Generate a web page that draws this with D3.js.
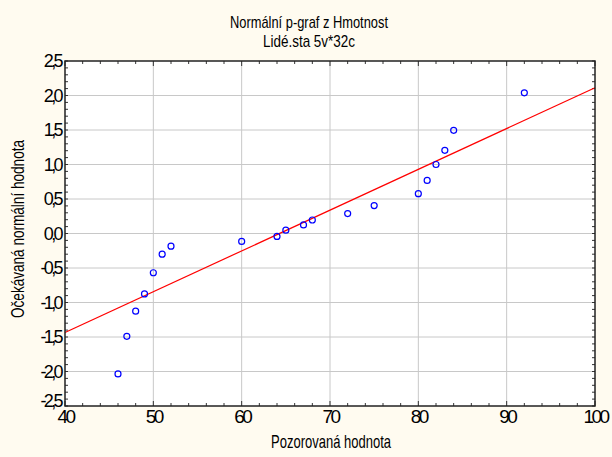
<!DOCTYPE html>
<html>
<head>
<meta charset="utf-8">
<script src="https://cdn.jsdelivr.net/npm/d3@7"></script>
<style>
  html, body { margin: 0; padding: 0; background: #fffbf0; }
  svg { display: block; }
  text { font-family: "Liberation Sans", Arial, sans-serif; fill: #000; }
</style>
</head>
<body>
<svg id="chart" width="612" height="457"></svg>
<script>
// Observed weights and their expected normal values
const observed = [46, 47, 48, 49, 50, 51, 52, 60, 64, 65, 67, 68, 72, 75, 80, 81, 82, 83, 84, 92];
const expected = [-2.035, -1.49, -1.125, -0.876, -0.569, -0.299, -0.183, -0.115, -0.043, 0.048,
                  0.125, 0.196, 0.289, 0.404, 0.577, 0.769, 1.0, 1.206, 1.495, 2.039];
// Reference line y = (x - mean) / sd
const lineMean = 64.27;
const lineSd = 16.92;

const xTicks = [40, 50, 60, 70, 80, 90, 100];
const yTicks = [2.5, 2.0, 1.5, 1.0, 0.5, 0.0, -0.5, -1.0, -1.5, -2.0, -2.5];
const titleLines = ["Normální p-graf z Hmotnost", "Lidé.sta 5v*32c"];
const xLabel = "Pozorovaná hodnota";
const yLabel = "Očekávaná normální hodnota";

const svg = d3.select("#chart");
const plot = { left: 65, right: 595, top: 61, bottom: 406 };

const x = d3.scaleLinear().domain([40, 100]).range([plot.left, plot.right]);
const y = d3.scaleLinear().domain([-2.5, 2.5]).range([plot.bottom, plot.top]);

const fmt = v => d3.format(".1f")(v).replace(".", ",").replace("−", "-");

// plot background
svg.append("rect")
  .attr("x", plot.left).attr("y", plot.top)
  .attr("width", plot.right - plot.left).attr("height", plot.bottom - plot.top)
  .attr("fill", "#ffffff");

// grid
const grid = svg.append("g").attr("stroke", "#c8c8c8").attr("stroke-width", 1);
grid.selectAll("line.gx").data(xTicks.slice(1, -1)).join("line")
  .attr("x1", d => x(d)).attr("x2", d => x(d))
  .attr("y1", plot.top).attr("y2", plot.bottom);
grid.selectAll("line.gy").data(yTicks.slice(1, -1)).join("line")
  .attr("y1", d => y(d)).attr("y2", d => y(d))
  .attr("x1", plot.left).attr("x2", plot.right);

// inward ticks on all four sides
const xMinor = d3.range(40, 100.001, 2);
const yMinor = d3.range(-25, 25.001, 1).map(v => v / 10);
const tickG = svg.append("g").attr("stroke", "#333").attr("stroke-width", 1);
tickG.selectAll("line.xb").data(xMinor).join("line")
  .attr("x1", d => x(d)).attr("x2", d => x(d))
  .attr("y1", plot.bottom).attr("y2", d => plot.bottom - (xTicks.includes(d) ? 5 : 3));
tickG.selectAll("line.xt").data(xMinor).join("line")
  .attr("x1", d => x(d)).attr("x2", d => x(d))
  .attr("y1", plot.top).attr("y2", d => plot.top + (xTicks.includes(d) ? 5 : 3));
tickG.selectAll("line.yl").data(yMinor).join("line")
  .attr("y1", d => y(d)).attr("y2", d => y(d))
  .attr("x1", plot.left).attr("x2", plot.left + 3);
tickG.selectAll("line.yr").data(yMinor).join("line")
  .attr("y1", d => y(d)).attr("y2", d => y(d))
  .attr("x1", plot.right).attr("x2", plot.right - 3);

// reference line
svg.append("line")
  .attr("x1", x(40)).attr("y1", y((40 - lineMean) / lineSd))
  .attr("x2", x(100)).attr("y2", y((100 - lineMean) / lineSd))
  .attr("stroke", "#ff0000").attr("stroke-width", 1.2);

// points
svg.append("g").selectAll("circle").data(observed).join("circle")
  .attr("cx", d => x(d))
  .attr("cy", (d, i) => y(expected[i]))
  .attr("r", 3)
  .attr("fill", "none")
  .attr("stroke", "#0000ff")
  .attr("stroke-width", 1.2);

// frame
svg.append("rect")
  .attr("x", plot.left).attr("y", plot.top)
  .attr("width", plot.right - plot.left).attr("height", plot.bottom - plot.top)
  .attr("fill", "none").attr("stroke", "#222").attr("stroke-width", 1.5);

// axes labels
const xAxis = d3.axisBottom(x).tickValues(xTicks).tickSize(0).tickPadding(4).tickFormat(d3.format("d"));
const gx = svg.append("g").attr("transform", `translate(0,${plot.bottom})`).call(xAxis);
gx.select(".domain").remove();
gx.selectAll("text")
  .attr("font-size", 19).attr("letter-spacing", "-2.6px")
  .attr("font-family", "Liberation Sans, Arial, sans-serif")
  .attr("dy", "0.7em");

const yAxis = d3.axisLeft(y).tickValues(yTicks).tickSize(0).tickPadding(4).tickFormat(fmt);
const gy = svg.append("g").attr("transform", `translate(${plot.left},0)`).call(yAxis);
gy.select(".domain").remove();
gy.selectAll("text")
  .attr("font-size", 18).attr("letter-spacing", "-2.6px")
  .attr("font-family", "Liberation Sans, Arial, sans-serif")
  .attr("dy", d => d === -2.5 ? "0.05em" : "0.32em");

// title
svg.append("g").selectAll("text").data(titleLines).join("text")
  .attr("x", 309).attr("y", (d, i) => 28 + i * 19)
  .attr("text-anchor", "middle")
  .attr("font-size", 17)
  .attr("textLength", (d, i) => i === 0 ? 158 : 92)
  .attr("lengthAdjust", "spacingAndGlyphs")
  .text(d => d);

// axis titles
svg.append("text")
  .attr("x", 331).attr("y", 448)
  .attr("text-anchor", "middle")
  .attr("font-size", 19)
  .attr("textLength", 120)
  .attr("lengthAdjust", "spacingAndGlyphs")
  .text(xLabel);

svg.append("text")
  .attr("transform", "translate(24,229) rotate(-90)")
  .attr("text-anchor", "middle")
  .attr("font-size", 19)
  .attr("textLength", 178)
  .attr("lengthAdjust", "spacingAndGlyphs")
  .text(yLabel);
</script>
</body>
</html>
